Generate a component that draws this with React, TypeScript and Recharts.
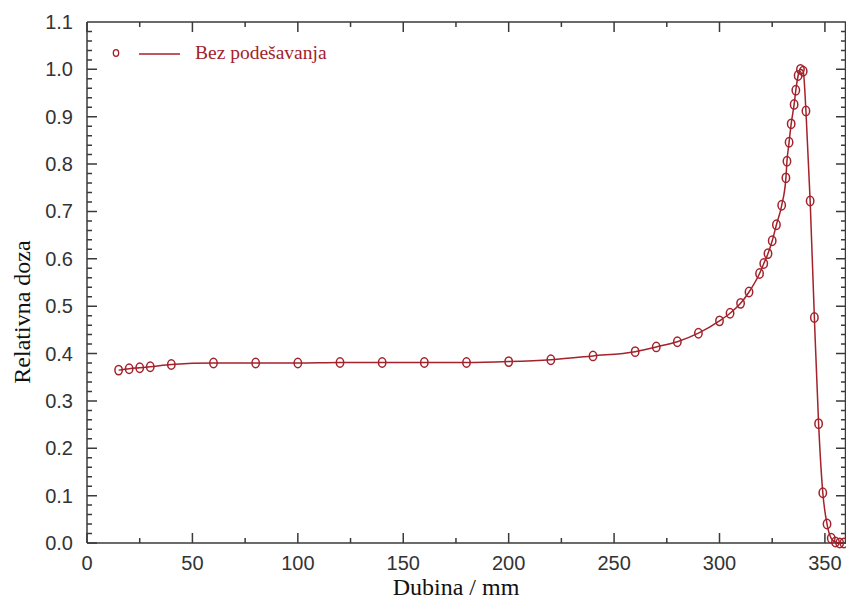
import React from "react";
import { ComposedChart, Line, XAxis, YAxis, Customized } from "recharts";

const depthMm: number[] = [
  15, 20, 25, 30, 40, 60, 80, 100, 120, 140, 160, 180, 200, 220, 240, 260, 270,
  280, 290, 300, 305, 310, 314, 319, 321, 323, 325, 327, 329.5, 331.5, 332, 333,
  334, 335.4, 336.2, 337.3, 338.4, 339.7, 341, 343, 345, 347, 349, 351, 353, 355,
  357, 359,
];
const relDose: number[] = [
  0.365, 0.368, 0.37, 0.372, 0.377, 0.38, 0.38, 0.38, 0.381, 0.381, 0.381, 0.381,
  0.383, 0.387, 0.395, 0.404, 0.414, 0.425, 0.443, 0.469, 0.485, 0.506, 0.53,
  0.569, 0.59, 0.611, 0.638, 0.672, 0.713, 0.771, 0.806, 0.846, 0.885, 0.926,
  0.956, 0.987, 1.0, 0.996, 0.912, 0.722, 0.476, 0.252, 0.106, 0.04, 0.01, 0.002,
  0.0, 0.0,
];
const xMajorTicks: number[] = [0, 50, 100, 150, 200, 250, 300, 350];
const yMajorTicks: number[] = [0, 0.1, 0.2, 0.3, 0.4, 0.5, 0.6, 0.7, 0.8, 0.9, 1.0, 1.1];
const seriesName = "Bez podešavanja";
const xTitle = "Dubina / mm";
const yTitle = "Relativna doza";

const X_MIN = 0;
const X_MAX = 360;
const Y_MIN = 0;
const Y_MAX = 1.1;

const data = depthMm.map((x, i) => ({ x, y: relDose[i] }));

// minor tick positions (x every 25, y every 0.02)
const xAllTicks: number[] = [];
for (let i = 0; i <= 14; i++) xAllTicks.push(i * 25);
const yAllTicks: number[] = [];
for (let i = 0; i <= 55; i++) yAllTicks.push(Math.round(i * 2) / 100);

// chart geometry (shared by the chart props and the frame decoration)
const CHART_W = 846;
const CHART_H = 599;
const M_TOP = 22;
const Y_AXIS_W = 87;
const X_AXIS_H = 56;
const PLOT_L = Y_AXIS_W;
const PLOT_T = M_TOP;
const PLOT_R = CHART_W;
const PLOT_B = CHART_H - X_AXIS_H;

const RED = "#a3222b";
const SANS = "'Liberation Sans', Arial, sans-serif";
const SERIF = "'Liberation Serif', 'Times New Roman', serif";

const isXMajor = (v: number) => xMajorTicks.some((t) => Math.abs(t - v) < 1e-6);
const isYMajor = (v: number) => yMajorTicks.some((t) => Math.abs(t - v) < 1e-6);

const renderBottomTick = (p: any) => {
  const x = Number(p.x);
  const y = Number(p.y);
  const v = p.payload.value;
  if (!isXMajor(v)) return <g key={"b" + p.index} />;
  return (
    <text key={"b" + p.index} x={x} y={y + 27} textAnchor="middle" fontFamily={SANS} fontSize={20} fill="#333">
      {v}
    </text>
  );
};

const renderLeftTick = (p: any) => {
  const x = Number(p.x);
  const y = Number(p.y);
  const v = p.payload.value;
  if (!isYMajor(v)) return <g key={"l" + p.index} />;
  return (
    <text key={"l" + p.index} x={x - 14} y={y + 7} textAnchor="end" fontFamily={SANS} fontSize={20} fill="#333">
      {Number(v).toFixed(1)}
    </text>
  );
};

const Marker = (props: any) => {
  const { cx, cy, index } = props;
  if (cx == null || cy == null) return <g key={index} />;
  return (
    <ellipse key={index} cx={cx} cy={cy} rx={3.7} ry={4.7} fill="none" stroke={RED} strokeWidth={1.5} />
  );
};

const px = (t: number) => PLOT_L + ((t - X_MIN) / (X_MAX - X_MIN)) * (PLOT_R - PLOT_L);
const py = (t: number) => PLOT_B - ((t - Y_MIN) / (Y_MAX - Y_MIN)) * (PLOT_B - PLOT_T);

const Frame = () => {
  let d = `M${PLOT_L},${PLOT_T}H${PLOT_R}M${PLOT_R - 0.5},${PLOT_T}V${PLOT_B}`;
  xAllTicks.forEach((t) => {
    const len = isXMajor(t) ? 10 : 5;
    const x = px(t);
    d += `M${x},${PLOT_B}V${PLOT_B - len}M${x},${PLOT_T}V${PLOT_T + len}`;
  });
  yAllTicks.forEach((t) => {
    const len = isYMajor(t) ? 10 : 5;
    const y = py(t);
    d += `M${PLOT_L},${y}H${PLOT_L + len}M${PLOT_R},${y}H${PLOT_R - len}`;
  });
  return <path d={d} stroke="#3a3a3a" strokeWidth={1.5} fill="none" />;
};

const Extras = () => (
  <g>
    <Frame />
    <ellipse cx={116} cy={53} rx={2.7} ry={3.3} fill="none" stroke={RED} strokeWidth={1.3} />
    <line x1={139} x2={180} y1={54} y2={54} stroke={RED} strokeWidth={1.5} />
    <text x={195} y={59} fontFamily={SERIF} fontSize={19.5} fill={RED}>
      {seriesName}
    </text>
    <text x={456} y={595} textAnchor="middle" fontFamily={SERIF} fontSize={24} fill="#111">
      {xTitle}
    </text>
    <text
      x={0}
      y={0}
      transform="translate(30, 312) rotate(-90)"
      textAnchor="middle"
      fontFamily={SERIF}
      fontSize={24}
      fill="#111"
    >
      {yTitle}
    </text>
  </g>
);

export default function App() {
  return (
    <div style={{ position: "absolute", left: 0, top: 0, width: CHART_W, height: CHART_H, overflow: "hidden", background: "#fff" }}>
      <ComposedChart width={CHART_W} height={CHART_H} data={data} margin={{ top: M_TOP, right: 0, left: 0, bottom: 0 }}>
        <XAxis
          dataKey="x"
          type="number"
          domain={[X_MIN, X_MAX]}
          ticks={xAllTicks}
          interval={0}
          height={X_AXIS_H}
          tickSize={0}
          tickMargin={0}
          tickLine={false}
          tick={renderBottomTick}
          axisLine={{ stroke: "#3a3a3a", strokeWidth: 1.5 }}
        />
        <YAxis
          type="number"
          domain={[Y_MIN, Y_MAX]}
          ticks={yAllTicks}
          interval={0}
          width={Y_AXIS_W}
          tickSize={0}
          tickMargin={0}
          tickLine={false}
          tick={renderLeftTick}
          axisLine={{ stroke: "#3a3a3a", strokeWidth: 1.5 }}
        />
        <Line
          dataKey="y"
          type="monotone"
          stroke={RED}
          strokeWidth={1.5}
          dot={<Marker />}
          activeDot={false}
          isAnimationActive={false}
        />
        <Customized component={Extras} />
      </ComposedChart>
    </div>
  );
}
